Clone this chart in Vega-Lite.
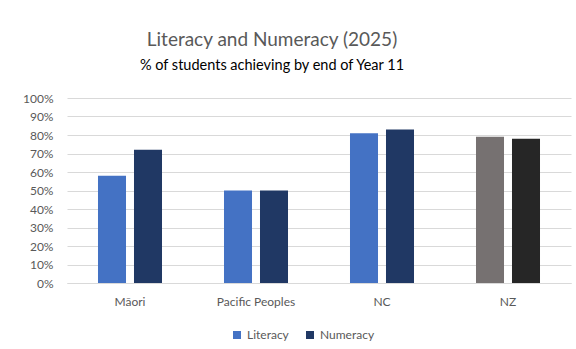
{
  "$schema": "https://vega.github.io/schema/vega-lite/v6.json",
  "width": 504,
  "height": 185,
  "autosize": "none",
  "padding": {"left": 67, "top": 98, "right": 5, "bottom": 66},
  "background": "white",
  "title": {
    "text": "Literacy and Numeracy (2025)",
    "subtitle": "% of students achieving by end of Year 11",
    "anchor": "middle",
    "dx": -47,
    "offset": 20,
    "font": "Lato",
    "fontSize": 19,
    "fontWeight": "normal",
    "color": "#595959",
    "subtitleFont": "Lato",
    "subtitleFontSize": 14.5,
    "subtitleColor": "#000000",
    "subtitlePadding": 9
  },
  "data": {
    "values": [
      {"region": "Māori", "series": "Literacy", "value": 0.58},
      {"region": "Māori", "series": "Numeracy", "value": 0.72},
      {"region": "Pacific Peoples", "series": "Literacy", "value": 0.50},
      {"region": "Pacific Peoples", "series": "Numeracy", "value": 0.50},
      {"region": "NC", "series": "Literacy", "value": 0.81},
      {"region": "NC", "series": "Numeracy", "value": 0.83},
      {"region": "NZ", "series": "Literacy", "value": 0.79},
      {"region": "NZ", "series": "Numeracy", "value": 0.78}
    ]
  },
  "mark": {"type": "bar"},
  "encoding": {
    "x": {
      "field": "region",
      "type": "nominal",
      "sort": ["Māori", "Pacific Peoples", "NC", "NZ"],
      "scale": {"paddingInner": 0, "paddingOuter": 0},
      "axis": {
        "title": null,
        "labelAngle": 0,
        "ticks": false,
        "grid": false,
        "domainColor": "#d9d9d9",
        "labelPadding": 13,
        "labelFont": "Lato",
        "labelFontSize": 12,
        "labelColor": "#595959"
      }
    },
    "xOffset": {
      "field": "series",
      "type": "nominal",
      "scale": {"paddingInner": 0.222, "paddingOuter": 0.861}
    },
    "y": {
      "field": "value",
      "type": "quantitative",
      "scale": {"domain": [0, 1]},
      "axis": {
        "title": null,
        "format": ".0%",
        "values": [0, 0.1, 0.2, 0.3, 0.4, 0.5, 0.6, 0.7, 0.8, 0.9, 1],
        "ticks": false,
        "domain": false,
        "grid": true,
        "gridColor": "#d9d9d9",
        "labelPadding": 14,
        "labelFont": "Lato",
        "labelFontSize": 12,
        "labelColor": "#595959"
      }
    },
    "color": {
      "field": "series",
      "type": "nominal",
      "scale": {"domain": ["Literacy", "Numeracy"], "range": ["#4472C4", "#203864"]},
      "condition": [
        {"test": "datum.region === 'NZ' && datum.series === 'Literacy'", "value": "#767171"},
        {"test": "datum.region === 'NZ' && datum.series === 'Numeracy'", "value": "#262626"}
      ],
      "legend": {
        "title": null,
        "orient": "none",
        "direction": "horizontal",
        "legendX": 164,
        "legendY": 231,
        "symbolType": "square",
        "symbolSize": 64,
        "symbolStrokeWidth": 0,
        "labelFont": "Lato",
        "labelFontSize": 12,
        "labelColor": "#595959",
        "labelOffset": 4,
        "columnPadding": 15
      }
    }
  },
  "config": {
    "view": {"stroke": null}
  }
}
